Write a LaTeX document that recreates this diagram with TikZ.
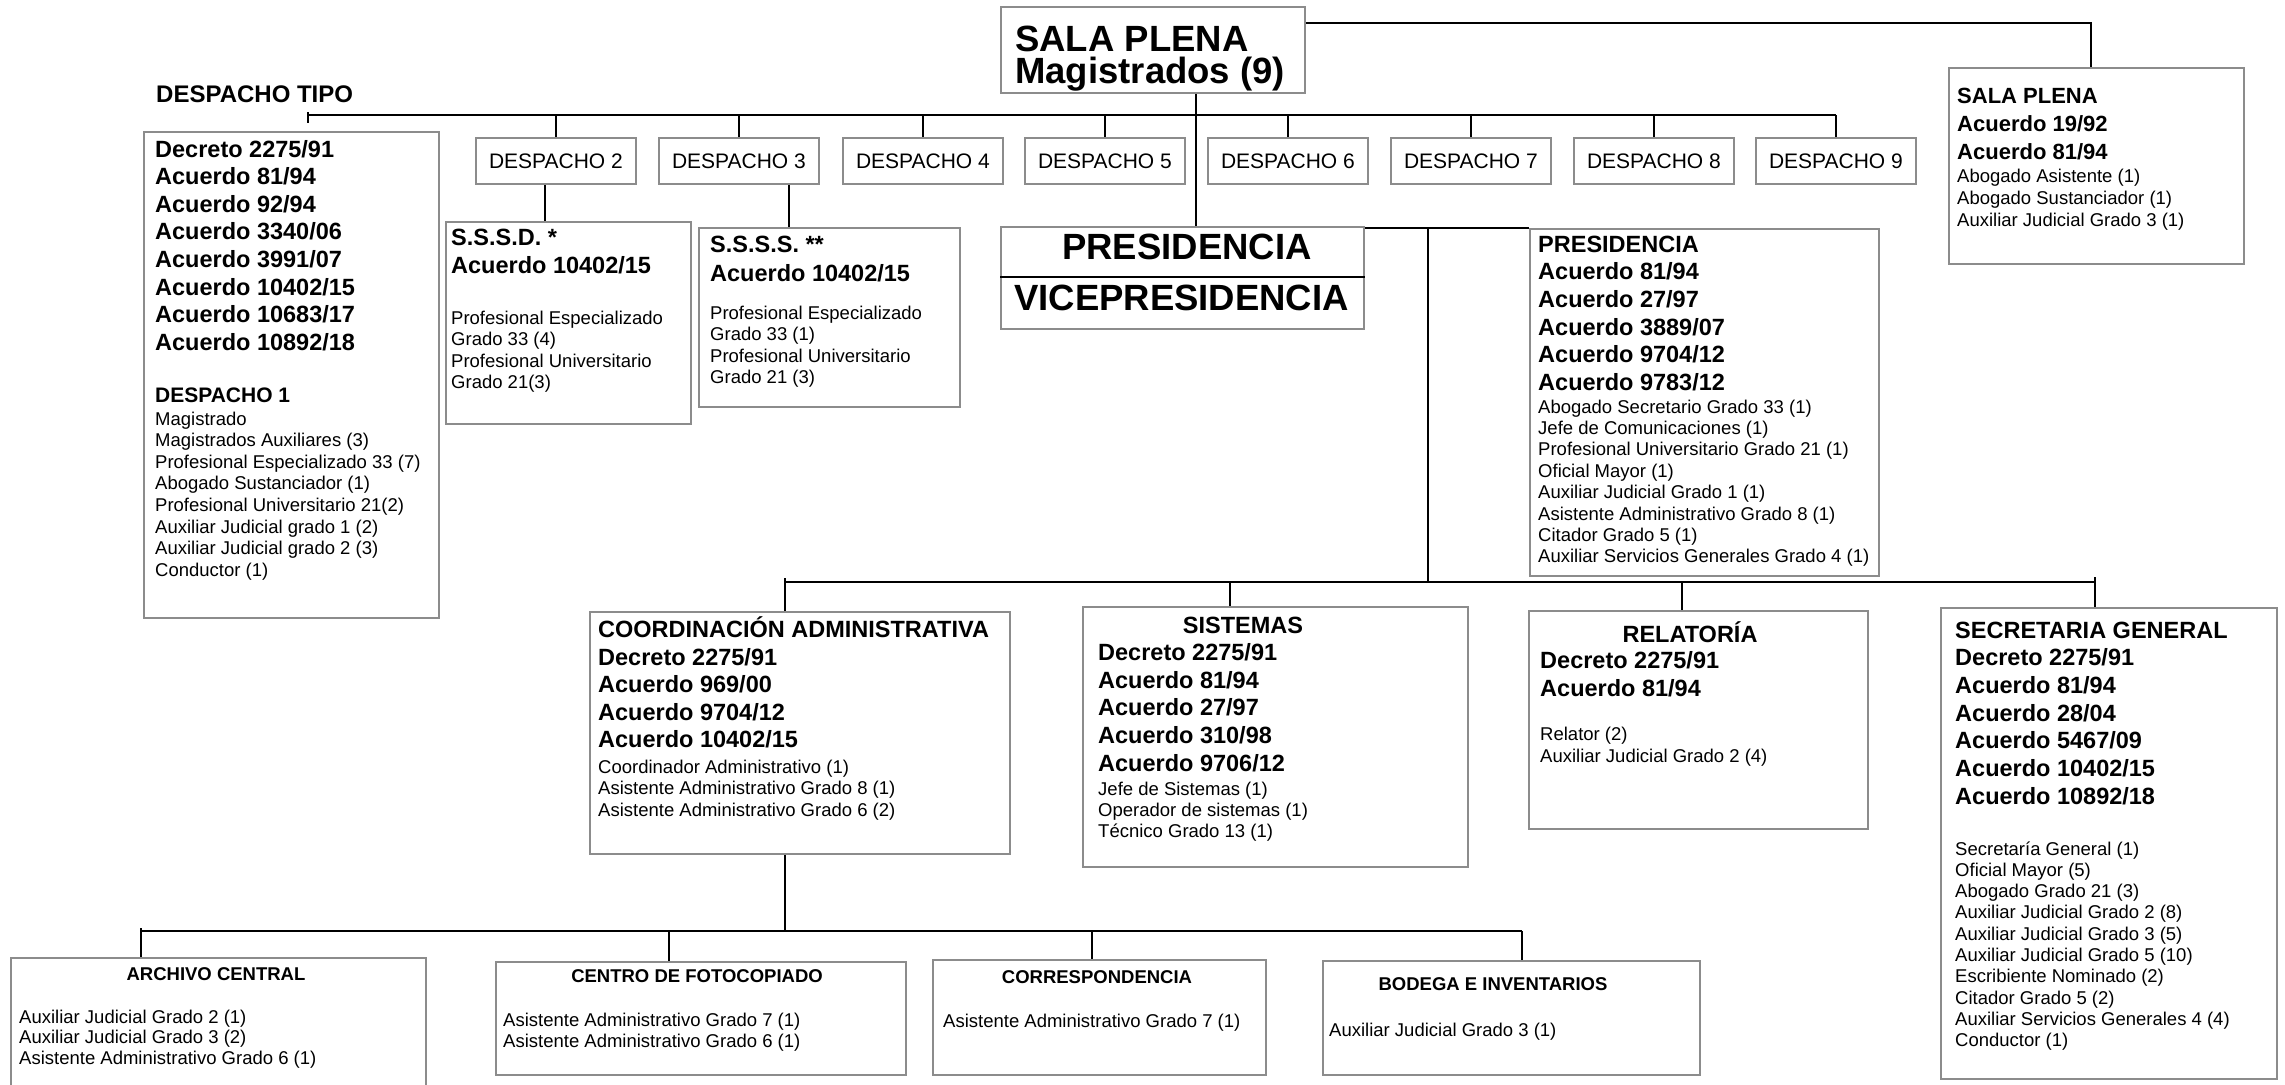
\documentclass[tikz,border=0pt]{standalone}
\usepackage{fontspec}
\setmainfont{Liberation Sans}
\definecolor{boxgray}{RGB}{140,140,140}
\newcommand\fH{\fontsize{36.5}{30}\selectfont\bfseries}
\newcommand\fT{\fontsize{24}{28}\selectfont\bfseries}
\newcommand\fB{\fontsize{23.5}{28}\selectfont\bfseries}
\newcommand\fBs{\fontsize{22}{28}\selectfont\bfseries}
\newcommand\fBm{\fontsize{21}{26}\selectfont\bfseries}
\newcommand\fD{\fontsize{21}{25}\selectfont}
\newcommand\fS{\fontsize{18.5}{22}\selectfont}
\newcommand\fBb{\fontsize{18.5}{22}\selectfont\bfseries}
% #1 name prefix, #2 x, #3 first baseline y, #4 pitch, #5 font, #6 lines
\newcommand\txl[6]{\foreach \tline [count=\i from 0] in {#6}{\node[tx,font=#5] (#1\i) at (#2,{#3+\i*#4}) {\tline};}}
\tikzset{
  box/.style={draw=boxgray, line width=1.8pt, inner sep=0pt, anchor=north west},
  conn/.style={line width=1.6pt, black},
  bus/.style={line width=2.6pt, black},
  tx/.style={anchor=base west, inner sep=0pt},
  txc/.style={anchor=base, inner sep=0pt},
}
\begin{document}
\begin{tikzpicture}[x=1pt,y=-1pt]
\useasboundingbox (0,0) rectangle (2285,1084);

% ---------- boxes ----------
\node[box, minimum width=304, minimum height=86] (sp) at (1000,6) {};
\node[box, minimum width=295, minimum height=196] (spr) at (1948,67) {};
\node[box, minimum width=295, minimum height=486] (dt) at (143,131) {};
\foreach \n/\x in {2/475,3/658,4/842,5/1024,6/1207,7/1390,8/1573,9/1755}{
  \node[box, minimum width=160, minimum height=46, font=\fD] (d\n) at (\x,137) {DESPACHO \n};
}
\node[box, minimum width=245, minimum height=202] (sssd) at (445,221) {};
\node[box, minimum width=261, minimum height=179] (ssss) at (698,227) {};
\node[box, minimum width=363, minimum height=102] (pv) at (1000,226) {};
\node[box, minimum width=349, minimum height=347] (pres) at (1529,228) {};
\node[box, minimum width=420, minimum height=242] (coord) at (589,611) {};
\node[box, minimum width=385, minimum height=260] (sis) at (1082,606) {};
\node[box, minimum width=339, minimum height=218] (rel) at (1528,610) {};
\node[box, minimum width=336, minimum height=471] (sg) at (1940,607) {};
\node[box, minimum width=415, minimum height=150] (arch) at (10,957) {};
\node[box, minimum width=410, minimum height=113] (foto) at (495,961) {};
\node[box, minimum width=333, minimum height=115] (corr) at (932,959) {};
\node[box, minimum width=377, minimum height=114] (bod) at (1322,960) {};

% ---------- helper coordinates ----------
\coordinate (vsp) at (1196,0);
\coordinate (c2) at (545,0);
\coordinate (c3) at (789,0);
\coordinate (pj) at (1428,0);
\coordinate (sx) at (1230,0);
\coordinate (rx) at (1682,0);
\coordinate (fx) at (669,0);
\coordinate (cx) at (1092,0);
\coordinate (b1a) at (308,115);
\coordinate (b2a) at (785,582);
\coordinate (b2b) at (2095,582);
\coordinate (b3a) at (141,931);
\coordinate (b3b) at (1522,931);

% ---------- connectors ----------
\draw[conn] ([yshift=-17pt]sp.north east) -| ([xshift=-5.5pt]spr.north);
\draw[conn] (sp.south -| vsp) -- (pv.north -| vsp);
\draw[bus] (b1a) -- (b1a -| d9.north);
\draw[conn] ([yshift=3pt]b1a) -- ([yshift=-8pt]b1a);
\foreach \n in {2,...,9}{\draw[conn] (d\n.north |- b1a) -- (d\n.north);}
\draw[conn] (d2.south -| c2) -- (sssd.north -| c2);
\draw[conn] (d3.south -| c3) -- (ssss.north -| c3);
\draw[line width=1.8pt] ([yshift=-51pt]pv.north west) -- ([yshift=-51pt]pv.north east);
\draw[conn] (pv.north east |- pres.north west) -- (pres.north west);
\draw[conn] (pres.north west -| pj) -- (b2a -| pj);
\draw[bus] (b2a) -- (b2b);
\draw[conn] ([yshift=4pt]b2a) -- (coord.north -| b2a);
\draw[conn] (b2a -| sx) -- (sis.north -| sx);
\draw[conn] (b2a -| rx) -- (rel.north -| rx);
\draw[conn] ([yshift=5pt]b2b) -- (sg.north -| b2b);
\draw[conn] (coord.south -| b2a) -- (b3a -| b2a);
\draw[bus] (b3a) -- (b3b);
\draw[conn] ([yshift=3pt]b3a) -- (arch.north -| b3a);
\draw[conn] (b3a -| fx) -- (foto.north -| fx);
\draw[conn] (b3a -| cx) -- (corr.north -| cx);
\draw[conn] (b3b) -- (bod.north -| b3b);

% ---------- texts ----------
\node[tx,font=\fH] (spt1) at (1015,51.5) {SALA PLENA};
\node[tx,font=\fH] (spt2) at (1015,83.5) {Magistrados (9)};

\node[tx,font=\fT] (dtl) at (156,102) {DESPACHO TIPO};
\txl{dtb}{155}{157}{27.6}{\fB}{Decreto 2275/91,Acuerdo 81/94,Acuerdo 92/94,Acuerdo 3340/06,Acuerdo 3991/07,Acuerdo 10402/15,Acuerdo 10683/17,Acuerdo 10892/18}
\node[tx,font=\fBm] (dt1) at (155,402) {DESPACHO 1};
\txl{dts}{155}{425}{21.6}{\fS}{Magistrado,Magistrados Auxiliares (3),Profesional Especializado 33 (7),Abogado Sustanciador (1),Profesional Universitario 21(2),Auxiliar Judicial grado 1 (2),Auxiliar Judicial grado 2 (3),Conductor (1)}

\txl{sprb}{1957}{103}{28}{\fBs}{SALA PLENA,Acuerdo 19/92,Acuerdo 81/94}
\txl{sprs}{1957}{182.7}{22}{\fS}{Abogado Asistente (1),Abogado Sustanciador (1),Auxiliar Judicial Grado 3 (1)}

\txl{sssdb}{451}{245}{28}{\fB}{S.S.S.D. *,Acuerdo 10402/15}
\txl{sssds}{451}{324}{21.5}{\fS}{Profesional Especializado,Grado 33 (4),Profesional Universitario,Grado 21(3)}

\txl{ssssb}{710}{252}{29}{\fB}{S.S.S.S. **,Acuerdo 10402/15}
\txl{sssss}{710}{319}{21.5}{\fS}{Profesional Especializado,Grado 33 (1),Profesional Universitario,Grado 21 (3)}

\node[txc,font=\fH] (pvt1) at (1187,259) {PRESIDENCIA};
\node[txc,font=\fH] (pvt2) at (1181.5,310) {VICEPRESIDENCIA};

\txl{presb}{1538}{252}{27.7}{\fB}{PRESIDENCIA,Acuerdo 81/94,Acuerdo 27/97,Acuerdo 3889/07,Acuerdo 9704/12,Acuerdo 9783/12}
\txl{press}{1538}{413}{21.4}{\fS}{Abogado Secretario Grado 33 (1),Jefe de Comunicaciones (1),Profesional Universitario Grado 21 (1),Oficial Mayor (1),Auxiliar Judicial Grado 1 (1),Asistente Administrativo Grado 8 (1),Citador Grado 5 (1),Auxiliar Servicios Generales Grado 4 (1)}

\txl{coordb}{598}{637.5}{27.6}{\fB}{COORDINACIÓN ADMINISTRATIVA,Decreto 2275/91,Acuerdo 969/00,Acuerdo 9704/12,Acuerdo 10402/15}
\txl{coords}{598}{773}{21.5}{\fS}{Coordinador Administrativo (1),Asistente Administrativo Grado 8 (1),Asistente Administrativo Grado 6 (2)}

\node[txc,font=\fB] (sist) at (1243,633) {SISTEMAS};
\txl{sisb}{1098}{660.6}{27.6}{\fB}{Decreto 2275/91,Acuerdo 81/94,Acuerdo 27/97,Acuerdo 310/98,Acuerdo 9706/12}
\txl{siss}{1098}{795}{21}{\fS}{Jefe de Sistemas (1),Operador de sistemas (1),Técnico Grado 13 (1)}

\node[txc,font=\fB] (relt) at (1690,642) {RELATORÍA};
\txl{relb}{1540}{668}{28}{\fB}{Decreto 2275/91,Acuerdo 81/94}
\txl{rels}{1540}{740}{22}{\fS}{Relator (2),Auxiliar Judicial Grado 2 (4)}

\txl{sgb}{1955}{638}{27.7}{\fB}{SECRETARIA GENERAL,Decreto 2275/91,Acuerdo 81/94,Acuerdo 28/04,Acuerdo 5467/09,Acuerdo 10402/15,Acuerdo 10892/18}
\txl{sgs}{1955}{855}{21.3}{\fS}{Secretaría General (1),Oficial Mayor (5),Abogado Grado 21 (3),Auxiliar Judicial Grado 2 (8),Auxiliar Judicial Grado 3 (5),Auxiliar Judicial Grado 5 (10),Escribiente Nominado (2),Citador Grado 5 (2),Auxiliar Servicios Generales 4 (4),Conductor (1)}

\node[txc,font=\fBb] (archt) at (216,980) {ARCHIVO CENTRAL};
\txl{archs}{19}{1023.5}{20.3}{\fS}{Auxiliar Judicial Grado 2 (1),Auxiliar Judicial Grado 3 (2),Asistente Administrativo Grado 6 (1)}

\node[txc,font=\fBb] (fotot) at (697,982) {CENTRO DE FOTOCOPIADO};
\txl{fotos}{503}{1026}{21}{\fS}{Asistente Administrativo Grado 7 (1),Asistente Administrativo Grado 6 (1)}

\node[txc,font=\fBb] (corrt) at (1097,983) {CORRESPONDENCIA};
\txl{corrs}{943}{1027}{21}{\fS}{Asistente Administrativo Grado 7 (1)}

\node[txc,font=\fBb] (bodt) at (1493,990.5) {BODEGA E INVENTARIOS};
\txl{bods}{1329}{1036}{21}{\fS}{Auxiliar Judicial Grado 3 (1)}
\end{tikzpicture}
\end{document}
